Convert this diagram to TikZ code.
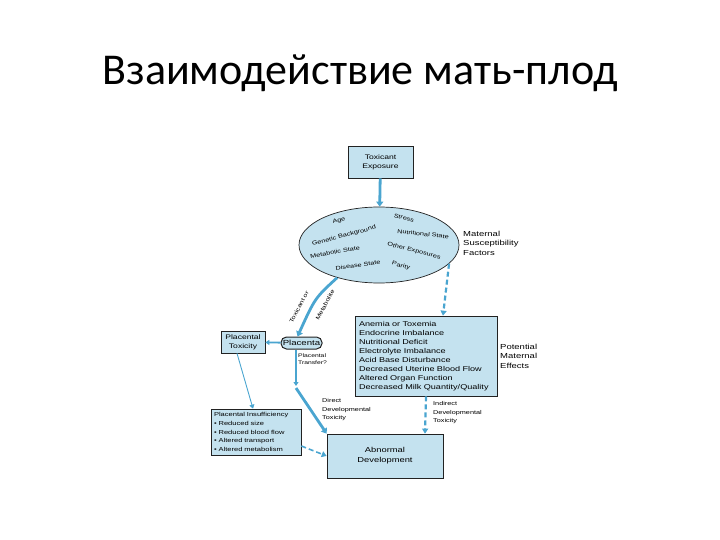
\documentclass[tikz,border=0pt]{standalone}
\usepackage{fontspec}
\setmainfont{Carlito}
\newfontfamily\diagfont[FakeStretch=1.3]{Liberation Sans}
\usepackage{tikz}
\usetikzlibrary{arrows.meta,calc,positioning,shapes.geometric}
\usepackage{xcolor}
\definecolor{boxfill}{HTML}{C4E2EF}
\definecolor{flow}{HTML}{4AA5D0}
\definecolor{inkgray}{HTML}{222222}

\begin{document}
\begin{tikzpicture}[x=1pt,y=-1pt,>=Stealth,
    font=\diagfont\fontsize{6.6}{9}\selectfont,
    box/.style={draw=inkgray,fill=boxfill,line width=0.7pt,inner sep=0pt,align=center},
    elltext/.style={font=\diagfont\fontsize{5.6}{7}\selectfont,inner sep=0pt},
    note/.style={align=left,inner sep=0pt,anchor=north west,font=\diagfont\fontsize{5.6}{8.8}\selectfont},
    sidenote/.style={note,font=\diagfont\fontsize{7.3}{9.5}\selectfont},
    bigflow/.style={flow,line width=2.8pt,-{Triangle[length=5pt,width=7pt]}},
    smallflow/.style={flow,line width=1.3pt,-{Triangle[length=4pt,width=5pt]}},
    dashflow/.style={flow,line width=2.2pt,dash pattern=on 5pt off 3pt,-{Triangle[length=5pt,width=6pt]}}]
  \useasboundingbox (0,0) rectangle (720,540);
  \node[font=\fontsize{44}{50}\selectfont,anchor=base] (title) at (360,85) {Взаимодействие мать-плод};
  % boxes
  \node[box,minimum width=65pt,minimum height=32pt] (tox) at (380.5,162) {Toxicant\\Exposure};
  \node[draw=inkgray,fill=boxfill,line width=0.7pt,ellipse,minimum width=160pt,minimum height=76pt,inner sep=0pt] (ell) at (379,245) {};
  \node[box,minimum width=142pt,minimum height=80pt,align=left,text width=134pt,font=\diagfont\fontsize{7}{9}\selectfont] (mat) at (426,356)
    {Anemia or Toxemia\\Endocrine Imbalance\\Nutritional Deficit\\Electrolyte Imbalance\\Acid Base Disturbance\\Decreased Uterine Blood Flow\\Altered Organ Function\\Decreased Milk Quantity/Quality};
  \node[box,rounded corners=5.5pt,line width=1pt,minimum width=41pt,minimum height=12pt,font=\diagfont\fontsize{7.4}{9}\selectfont] (plac) at (301.5,343) {Placenta};
  \node[box,minimum width=44pt,minimum height=22pt] (ptox) at (243,342) {Placental\\Toxicity};
  \node[box,minimum width=90pt,minimum height=46pt,align=left,text width=84pt,font=\diagfont\fontsize{5.8}{8.6}\selectfont] (pins) at (256,432)
    {Placental Insufficiency\\\textbullet\ Reduced size\\\textbullet\ Reduced blood flow\\\textbullet\ Altered transport\\\textbullet\ Altered metabolism};
  \node[box,minimum width=116pt,minimum height=44pt,font=\diagfont\fontsize{7.2}{10}\selectfont] (adev) at (385,456) {Abnormal\\Development};
  % ellipse contents
  \node[elltext,rotate=15] (age) at (339,221) {Age};
  \node[elltext,rotate=15] (gen) at (344,236) {Genetic Background};
  \node[elltext,rotate=10] (meta) at (335,252) {Metabolic State};
  \node[elltext,rotate=8] (dis) at (358,265) {Disease State};
  \node[elltext,rotate=-15] (stress) at (404,218) {Stress};
  \node[elltext,rotate=-6] (nutr) at (423,234) {Nutritional State};
  \node[elltext,rotate=-14] (other) at (414,251) {Other Exposures};
  \node[elltext,rotate=-15] (par) at (401,266) {Parity};
  % side labels
  \node[sidenote] (susc) at (463,231) {Maternal\\Susceptibility\\Factors};
  \node[sidenote] (poteff) at (500,344) {Potential\\Maternal\\Effects};
  \node[note,font=\diagfont\fontsize{5.2}{7}\selectfont] (trans) at (298,354) {Placental\\Transfer?};
  \node[note] (direct) at (322,398) {Direct\\Developmental\\Toxicity};
  \node[note] (indirect) at (433,401) {Indirect\\Developmental\\Toxicity};
  \node[elltext,rotate=62] (toxor) at (299,307) {Toxicant or};
  \node[elltext,rotate=62] (metab) at (325,305) {Metabolite};
  % connectors
  \coordinate (bend) at (296,386);
  \draw[bigflow] (tox) -- (ell);
  \draw[bigflow] (ell.218) .. controls (315,298) .. ($(plac.north)+(-4,0)$);
  \draw[smallflow,line width=1.8pt] (plac) -- (ptox);
  \draw[smallflow] (bend |- plac.south) -- (bend);
  \draw[bigflow] ($(bend)+(0,2)$) -- (adev.north west);
  \draw[dashflow] (ell.-15) -- ($(mat.north)+(17,0)$);
  \draw[dashflow] (mat.south) -- ($(adev.north)+(40,0)$);
  \draw[smallflow,line width=0.9pt] ($(ptox.south)+(-6,0)$) -- ($(pins.north)+(-3,0)$);
  \draw[dashflow,line width=1.6pt] ($(pins.east)+(0,14)$) -- (adev.west);
\end{tikzpicture}
\end{document}
